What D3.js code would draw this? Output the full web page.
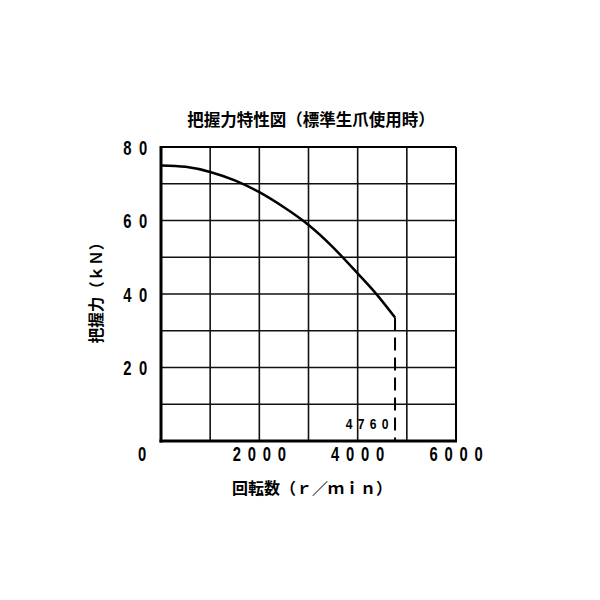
<!DOCTYPE html>
<html><head><meta charset="utf-8">
<script src="https://cdn.jsdelivr.net/npm/d3@7"></script>
<style>body{margin:0;background:#fff}</style>
</head><body>
<script>
const title = "把握力特性図（標準生爪使用時）";
const xLabel = "回転数（ｒ／ｍｉｎ）";
const yLabel = "把握力（ｋＮ）";
const xTicks = [2000, 4000, 6000];
const yTicks = [20, 40, 60, 80];
const xGrid = [1000, 2000, 3000, 4000, 5000];
const yGrid = [10, 20, 30, 40, 50, 60, 70];
const rpm   = [0, 500, 1000, 1500, 2000, 2500, 3000, 3500, 4000, 4373, 4760];
const force = [75, 74.6, 73.2, 70.9, 67.7, 63.6, 58.8, 52.7, 45.6, 40.1, 33.6];
const maxRpm = 4760;
const maxRpmLabel = "4760";

const W = 600, H = 600;
const svg = d3.select("body").append("svg").attr("width", W).attr("height", H);
const x = d3.scaleLinear().domain([0, 6000]).range([161, 456]);
const y = d3.scaleLinear().domain([0, 80]).range([441, 147]);
const numFont = "'Liberation Sans','DejaVu Sans',sans-serif";
const cjk = "'Noto Sans CJK JP',sans-serif";

// grid
svg.append("g").selectAll("line").data(xGrid).join("line")
  .attr("x1", d => x(d)).attr("x2", d => x(d)).attr("y1", y(0)).attr("y2", y(80))
  .attr("stroke", "#111").attr("stroke-width", 1.6);
svg.append("g").selectAll("line").data(yGrid).join("line")
  .attr("y1", d => y(d)).attr("y2", d => y(d)).attr("x1", x(0)).attr("x2", x(6000))
  .attr("stroke", "#111").attr("stroke-width", 1.6);
// frame
svg.append("line").attr("x1", x(0)).attr("x2", x(6000)).attr("y1", y(80)).attr("y2", y(80)).attr("stroke", "#000").attr("stroke-width", 2);
svg.append("line").attr("x1", x(6000)).attr("x2", x(6000)).attr("y1", y(0)).attr("y2", y(80)).attr("stroke", "#000").attr("stroke-width", 2);
svg.append("line").attr("x1", x(0)).attr("x2", x(0)).attr("y1", y(0) + 1.5).attr("y2", y(80) - 1).attr("stroke", "#000").attr("stroke-width", 3);
svg.append("line").attr("x1", x(0) - 1.5).attr("x2", x(6000) + 1).attr("y1", y(0)).attr("y2", y(0)).attr("stroke", "#000").attr("stroke-width", 3);

// curve
const pts = rpm.map((r, i) => [r, force[i]]);
svg.append("path").datum(pts)
  .attr("d", d3.line().x(d => x(d[0])).y(d => y(d[1])).curve(d3.curveNatural))
  .attr("fill", "none").attr("stroke", "#000").attr("stroke-width", 2.5);
// dashed drop line
svg.append("line").attr("x1", x(maxRpm)).attr("x2", x(maxRpm))
  .attr("y1", y(force[force.length - 1])).attr("y2", y(0))
  .attr("stroke", "#000").attr("stroke-width", 2).attr("stroke-dasharray", "13,7");

// spaced text helper (narrowed glyphs)
function spaced(g, str, cx, cy, pitch, size, sx) {
  const chars = str.split("");
  const start = cx - pitch * (chars.length - 1) / 2;
  chars.forEach((c, i) => {
    g.append("text")
      .attr("transform", `translate(${start + i * pitch},${cy}) scale(${sx},1)`)
      .attr("text-anchor", "middle").attr("dominant-baseline", "central")
      .attr("font-family", numFont).attr("font-size", size).attr("font-weight", "bold")
      .attr("fill", "#000").text(c);
  });
}
const tg = svg.append("g");
xTicks.forEach(t => spaced(tg, String(t), x(t), 454, 15, 20, 0.74));
spaced(tg, "0", 142, 454, 15, 20, 0.74);
yTicks.forEach(t => spaced(tg, String(t), 135.3, y(t) + 1, 15.7, 20, 0.74));
spaced(tg, maxRpmLabel, 367, 423, 12, 15.5, 0.78);

// titles
svg.append("text").attr("x", 311).attr("y", 119).attr("text-anchor", "middle")
  .attr("dominant-baseline", "central").attr("font-family", cjk)
  .attr("font-size", 16.5).attr("font-weight", "bold").text(title);
svg.append("text").attr("x", 312).attr("y", 487).attr("text-anchor", "middle")
  .attr("dominant-baseline", "central").attr("font-family", cjk)
  .attr("font-size", 16).attr("font-weight", "bold").text(xLabel);
svg.append("text").attr("transform", "translate(95,289) rotate(-90)").attr("text-anchor", "middle")
  .attr("dominant-baseline", "central").attr("font-family", cjk)
  .attr("font-size", 15.5).attr("font-weight", "bold").text(yLabel);
</script>
</body></html>
